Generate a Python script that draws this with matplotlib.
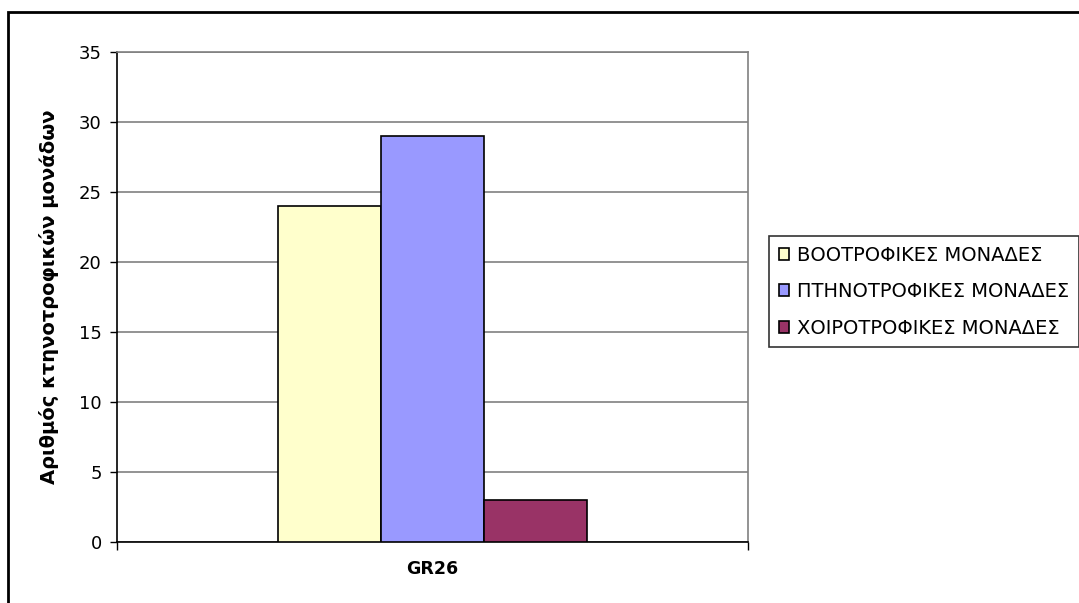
import matplotlib
matplotlib.use("Agg")
import matplotlib.pyplot as plt
from matplotlib.patches import Rectangle

plt.rcParams['font.family'] = ['DejaVu Sans']

# data
categories = ['GR26']
series_names = ['ΒΟΟΤΡΟΦΙΚΕΣ ΜΟΝΑΔΕΣ', 'ΠΤΗΝΟΤΡΟΦΙΚΕΣ ΜΟΝΑΔΕΣ', 'ΧΟΙΡΟΤΡΟΦΙΚΕΣ ΜΟΝΑΔΕΣ']
series_values = [[24], [29], [3]]
colors = ['#FFFFCC', '#9999FF', '#993366']
y_ticks = [0, 5, 10, 15, 20, 25, 30, 35]
y_label = 'Αριθμός κτηνοτροφικών μονάδων'

fig = plt.figure(figsize=(10.79, 6.03), dpi=100)
ax = fig.add_axes([117 / 1079, 61 / 603, 631 / 1079, 490 / 603])

bar_w = 0.163
n = len(series_names)
for i, (name, vals, c) in enumerate(zip(series_names, series_values, colors)):
    offs = (i - (n - 1) / 2) * bar_w
    xs = [k + offs for k in range(len(categories))]
    ax.bar(xs, vals, width=bar_w, color=c, edgecolor='black', linewidth=1.2,
           label=name, zorder=3)

ax.set_xlim(-0.5, len(categories) - 0.5)
ax.set_ylim(0, 35)
ax.set_yticks(y_ticks)
ax.set_yticklabels([str(t) for t in y_ticks], fontsize=13)
ax.grid(axis='y', color='#808080', linewidth=1.2, zorder=0)

ax.set_xticks(range(len(categories)))
ax.set_xticklabels(categories, fontsize=12.5, fontweight='bold')
ax.tick_params(axis='x', length=0, pad=13)
ax.set_xticks([k - 0.5 for k in range(len(categories) + 1)], minor=True)
ax.tick_params(axis='x', which='minor', length=6, width=1, color='black')
ax.tick_params(axis='y', length=5, width=1, pad=6)

ax.set_ylabel(y_label, fontsize=14, fontweight='bold', labelpad=14)

for side in ['left', 'bottom']:
    ax.spines[side].set_color('black')
    ax.spines[side].set_linewidth(1.2)
for side in ['top', 'right']:
    ax.spines[side].set_color('#808080')
    ax.spines[side].set_linewidth(1.2)

leg = ax.legend(loc='upper left', bbox_to_anchor=(769 / 1079, (603 - 236) / 603),
                bbox_transform=fig.transFigure, fontsize=14, frameon=True,
                fancybox=False, edgecolor='black', handlelength=0.55,
                handleheight=0.55, handletextpad=0.4, labelspacing=0.9,
                borderpad=0.5, borderaxespad=0)
leg.get_frame().set_linewidth(1.2)

# outer chart border
fig.patches.append(Rectangle((8 / 1079, -0.05), 1.1, 1 - 12 / 603 + 0.05,
                             transform=fig.transFigure, fill=False,
                             edgecolor='black', linewidth=2))

fig.savefig('out.png', dpi=100)
